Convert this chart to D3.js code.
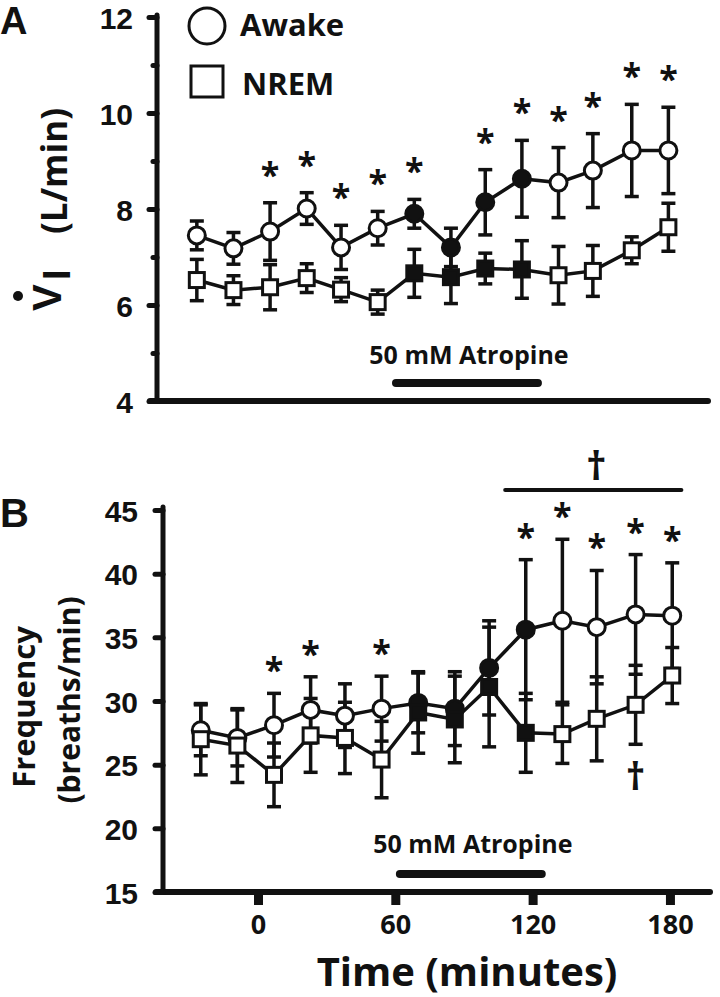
<!DOCTYPE html>
<html lang="en">
<head>
<meta charset="utf-8">
<title>Ventilation and frequency, atropine</title>
<script src="https://cdn.jsdelivr.net/npm/d3@7"></script>
<style>
  body { margin: 0; background: #fff; }
  text { fill: #111; }
</style>
</head>
<body>
<script>
// ---- data ----
var times = [-25, -9, 7, 23, 38, 54, 70, 86, 101, 117, 133, 148, 165, 181];
// points drawn filled (during atropine)
var onDrug = [false, false, false, false, false, false, true, true, true, true, false, false, false, false];

// panel A: VI (L/min)
var awakeVi   = [7.45, 7.18, 7.53, 8.01, 7.2, 7.6, 7.9, 7.2, 8.14, 8.63, 8.55, 8.8, 9.22, 9.22];
var awakeViSd = [0.3, 0.33, 0.6, 0.33, 0.46, 0.35, 0.3, 0.4, 0.68, 0.8, 0.73, 0.77, 0.96, 0.9];
var nremVi    = [6.52, 6.31, 6.37, 6.56, 6.32, 6.06, 6.66, 6.58, 6.76, 6.74, 6.62, 6.71, 7.14, 7.62];
var nremViSd  = [0.43, 0.3, 0.47, 0.3, 0.25, 0.25, 0.5, 0.55, 0.32, 0.6, 0.6, 0.53, 0.28, 0.5];
var starsA    = [false, false, true, true, true, true, true, false, true, true, true, true, true, true];

// panel B: frequency (breaths/min)
var awakeF   = [27.7, 27.1, 28.1, 29.3, 28.85, 29.4, 29.85, 29.4, 32.6, 35.6, 36.3, 35.8, 36.8, 36.7];
var awakeFSd = [2.0, 2.2, 2.5, 2.6, 2.5, 2.55, 2.35, 2.9, 3.7, 5.5, 6.4, 4.45, 4.7, 4.15];
var nremF    = [27.0, 26.5, 24.2, 27.3, 27.1, 25.4, 29.1, 28.55, 31.1, 27.5, 27.4, 28.6, 29.7, 32.0];
var nremFSd  = [2.8, 2.9, 2.5, 2.9, 2.8, 3.0, 3.2, 3.4, 4.7, 3.1, 2.3, 3.3, 3.1, 2.2];
var starsB   = [false, false, true, true, false, true, false, false, false, true, true, true, true, true];

var ticksA = [4, 6, 8, 10, 12];
var minorA = [5, 7, 9, 11];
var ticksB = [15, 20, 25, 30, 35, 40, 45];
var ticksX = [0, 60, 120, 180];
var drugSpan = [62, 124];
var daggerSpan = [108, 185];   // bracket over late time points
var daggerPoint = 12;          // NREM point marked with a dagger

var w = 720, h = 997;
var ink = "#111";
var numFont = "'Liberation Sans', Arial, sans-serif";
var txtFont = "'Open Sans', sans-serif";

var svg = d3.select("body").append("svg")
    .attr("width", w)
    .attr("height", h);

// scales
var xA = d3.scaleLinear().domain([-42.4, 198.3]).range([157, 708]);
var yA = d3.scaleLinear().domain([4, 12]).range([401, 17]);
var xB = d3.scaleLinear().domain([-41.5, 197.5]).range([163, 710]);
var yB = d3.scaleLinear().domain([15, 45]).range([892, 510]);

function drawPanel(x, y, awake, awakeSd, nrem, nremSd, stars, starGap) {
    var g = svg.append("g");
    var cap = 7;

    // error bars
    [[awake, awakeSd], [nrem, nremSd]].forEach(function(s) {
        var m = s[0], sd = s[1];
        times.forEach(function(t, i) {
            var cx = x(t);
            var eb = g.append("g").attr("stroke", ink).attr("stroke-width", 3.5);
            eb.append("line").attr("x1", cx).attr("x2", cx)
                .attr("y1", y(m[i] - sd[i])).attr("y2", y(m[i] + sd[i]));
            eb.append("line").attr("x1", cx - cap).attr("x2", cx + cap)
                .attr("y1", y(m[i] + sd[i])).attr("y2", y(m[i] + sd[i]));
            eb.append("line").attr("x1", cx - cap).attr("x2", cx + cap)
                .attr("y1", y(m[i] - sd[i])).attr("y2", y(m[i] - sd[i]));
        });
    });

    // connecting lines
    [awake, nrem].forEach(function(m) {
        var line = d3.line()
            .x(function(d, i) { return x(times[i]); })
            .y(function(d) { return y(d); });
        g.append("path")
            .attr("d", line(m))
            .attr("fill", "none")
            .attr("stroke", ink)
            .attr("stroke-width", 3.5);
    });

    // circles (awake)
    g.selectAll("circle.awake")
        .data(awake)
        .enter()
        .append("circle")
        .attr("class", "awake")
        .attr("cx", function(d, i) { return x(times[i]); })
        .attr("cy", function(d) { return y(d); })
        .attr("r", 8.5)
        .attr("fill", function(d, i) { return onDrug[i] ? ink : "#fff"; })
        .attr("stroke", ink)
        .attr("stroke-width", 3);

    // squares (NREM)
    g.selectAll("rect.nrem")
        .data(nrem)
        .enter()
        .append("rect")
        .attr("class", "nrem")
        .attr("x", function(d, i) { return x(times[i]) - 7.5; })
        .attr("y", function(d) { return y(d) - 7.5; })
        .attr("width", 15)
        .attr("height", 15)
        .attr("fill", function(d, i) { return onDrug[i] ? ink : "#fff"; })
        .attr("stroke", ink)
        .attr("stroke-width", 3);

    // asterisks above awake error bars
    times.forEach(function(t, i) {
        if (!stars[i]) return;
        g.append("text")
            .attr("x", x(t))
            .attr("y", y(awake[i] + awakeSd[i]) - starGap + 20)
            .attr("text-anchor", "middle")
            .attr("font-family", txtFont)
            .attr("font-weight", "bold")
            .attr("font-size", 34)
            .text("*");
    });
    return g;
}

function drugBar(x, yBar, yText) {
    svg.append("line")
        .attr("x1", x(drugSpan[0])).attr("x2", x(drugSpan[1]))
        .attr("y1", yBar).attr("y2", yBar)
        .attr("stroke", ink).attr("stroke-width", 8)
        .attr("stroke-linecap", "round");
    svg.append("text")
        .attr("x", (x(drugSpan[0]) + x(drugSpan[1])) / 2 + 2)
        .attr("y", yText)
        .attr("text-anchor", "middle")
        .attr("font-family", txtFont)
        .attr("font-weight", "bold")
        .attr("font-size", 25)
        .text("50 mM Atropine");
}

// ================= Panel A =================
// axes
svg.append("line")
    .attr("x1", xA.range()[0]).attr("x2", xA.range()[0])
    .attr("y1", yA(12) - 2).attr("y2", yA(4))
    .attr("stroke", ink).attr("stroke-width", 5).attr("stroke-linecap", "round");
svg.append("line")
    .attr("x1", xA.range()[0] - 7).attr("x2", xA.range()[1])
    .attr("y1", yA(4)).attr("y2", yA(4))
    .attr("stroke", ink).attr("stroke-width", 6).attr("stroke-linecap", "round");

var axA = svg.append("g")
    .attr("transform", "translate(" + xA.range()[0] + ",0)")
    .call(d3.axisLeft(yA).tickValues(ticksA).tickSize(8).tickSizeOuter(0));
axA.select(".domain").remove();
axA.selectAll("line").attr("stroke", ink).attr("stroke-width", 5).attr("stroke-linecap", "round");
axA.selectAll("text")
    .attr("x", -24).attr("y", 11).attr("dy", null)
    .attr("font-family", numFont).attr("font-weight", "bold").attr("font-size", 30).attr("fill", ink);

var axAm = svg.append("g")
    .attr("transform", "translate(" + xA.range()[0] + ",0)")
    .call(d3.axisLeft(yA).tickValues(minorA).tickSize(4).tickFormat(""));
axAm.select(".domain").remove();
axAm.selectAll("line").attr("stroke", ink).attr("stroke-width", 5).attr("stroke-linecap", "round");

drawPanel(xA, yA, awakeVi, awakeViSd, nremVi, nremViSd, starsA, 36);
drugBar(xA, 383, 364);

// legend
svg.append("circle").attr("cx", 207).attr("cy", 26).attr("r", 18)
    .attr("fill", "#fff").attr("stroke", ink).attr("stroke-width", 3);
svg.append("rect").attr("x", 191).attr("y", 66).attr("width", 32).attr("height", 31)
    .attr("fill", "#fff").attr("stroke", ink).attr("stroke-width", 3);
svg.append("text").attr("x", 240).attr("y", 36)
    .attr("font-family", txtFont).attr("font-weight", "bold").attr("font-size", 31)
    .text("Awake");
svg.append("text").attr("x", 242).attr("y", 95)
    .attr("font-family", txtFont).attr("font-weight", "bold").attr("font-size", 31)
    .text("NREM");

// y title A: V-dot sub I (L/min)
svg.append("text")
    .attr("transform", "translate(61,311) rotate(-90)")
    .attr("font-family", numFont).attr("font-weight", "bold").attr("font-size", 40)
    .text("V");
svg.append("text")
    .attr("transform", "translate(70,280) rotate(-90)")
    .attr("font-family", numFont).attr("font-weight", "bold").attr("font-size", 38)
    .text("I");
svg.append("circle").attr("cx", 18).attr("cy", 296).attr("r", 5).attr("fill", ink);
svg.append("text")
    .attr("transform", "translate(67,234) rotate(-90)")
    .attr("font-family", txtFont).attr("font-weight", "bold").attr("font-size", 35)
    .text("(L/min)");

svg.append("text").attr("x", 0).attr("y", 34)
    .attr("font-family", numFont).attr("font-weight", "bold").attr("font-size", 38)
    .text("A");

// ================= Panel B =================
svg.append("line")
    .attr("x1", xB.range()[0]).attr("x2", xB.range()[0])
    .attr("y1", yB(45) - 3).attr("y2", yB(15))
    .attr("stroke", ink).attr("stroke-width", 5).attr("stroke-linecap", "round");
svg.append("line")
    .attr("x1", xB.range()[0] - 7).attr("x2", xB.range()[1])
    .attr("y1", yB(15)).attr("y2", yB(15))
    .attr("stroke", ink).attr("stroke-width", 6).attr("stroke-linecap", "round");

var axB = svg.append("g")
    .attr("transform", "translate(" + xB.range()[0] + ",0)")
    .call(d3.axisLeft(yB).tickValues(ticksB).tickSize(8).tickSizeOuter(0));
axB.select(".domain").remove();
axB.selectAll("line").attr("stroke", ink).attr("stroke-width", 5).attr("stroke-linecap", "round");
axB.selectAll("text")
    .attr("x", -25).attr("y", 11).attr("dy", null)
    .attr("font-family", numFont).attr("font-weight", "bold").attr("font-size", 30).attr("fill", ink);

var axX = svg.append("g")
    .attr("transform", "translate(0," + yB(15) + ")")
    .call(d3.axisBottom(xB).tickValues(ticksX).tickSize(13).tickSizeOuter(0));
axX.select(".domain").remove();
axX.selectAll("line").attr("stroke", ink).attr("stroke-width", 9);
axX.selectAll("text")
    .attr("y", 42).attr("dy", null)
    .attr("font-family", txtFont).attr("font-weight", "bold").attr("font-size", 27).attr("fill", ink);

drawPanel(xB, yB, awakeF, awakeFSd, nremF, nremFSd, starsB, 31);
drugBar(xB, 874, 853);

// dagger bracket
svg.append("line")
    .attr("x1", xB(daggerSpan[0])).attr("x2", xB(daggerSpan[1]))
    .attr("y1", 490).attr("y2", 490)
    .attr("stroke", ink).attr("stroke-width", 4).attr("stroke-linecap", "round");
svg.append("text")
    .attr("x", (xB(daggerSpan[0]) + xB(daggerSpan[1])) / 2 + 3)
    .attr("y", 480)
    .attr("text-anchor", "middle")
    .attr("font-family", txtFont).attr("font-weight", "bold").attr("font-size", 40)
    .text("\u2020");
svg.append("text")
    .attr("x", xB(times[daggerPoint]))
    .attr("y", yB(nremF[daggerPoint] - nremFSd[daggerPoint]) + 46)
    .attr("text-anchor", "middle")
    .attr("font-family", txtFont).attr("font-weight", "bold").attr("font-size", 38)
    .text("\u2020");

// titles B
svg.append("text")
    .attr("transform", "translate(35,707) rotate(-90)")
    .attr("text-anchor", "middle")
    .attr("font-family", txtFont).attr("font-weight", "bold").attr("font-size", 31)
    .text("Frequency");
svg.append("text")
    .attr("transform", "translate(80,700) rotate(-90)")
    .attr("text-anchor", "middle")
    .attr("font-family", txtFont).attr("font-weight", "bold").attr("font-size", 30)
    .text("(breaths/min)");
svg.append("text")
    .attr("x", 467).attr("y", 986)
    .attr("text-anchor", "middle")
    .attr("font-family", txtFont).attr("font-weight", "bold").attr("font-size", 40)
    .text("Time (minutes)");

svg.append("text").attr("x", 0).attr("y", 527)
    .attr("font-family", numFont).attr("font-weight", "bold").attr("font-size", 40)
    .text("B");
</script>
</body>
</html>
